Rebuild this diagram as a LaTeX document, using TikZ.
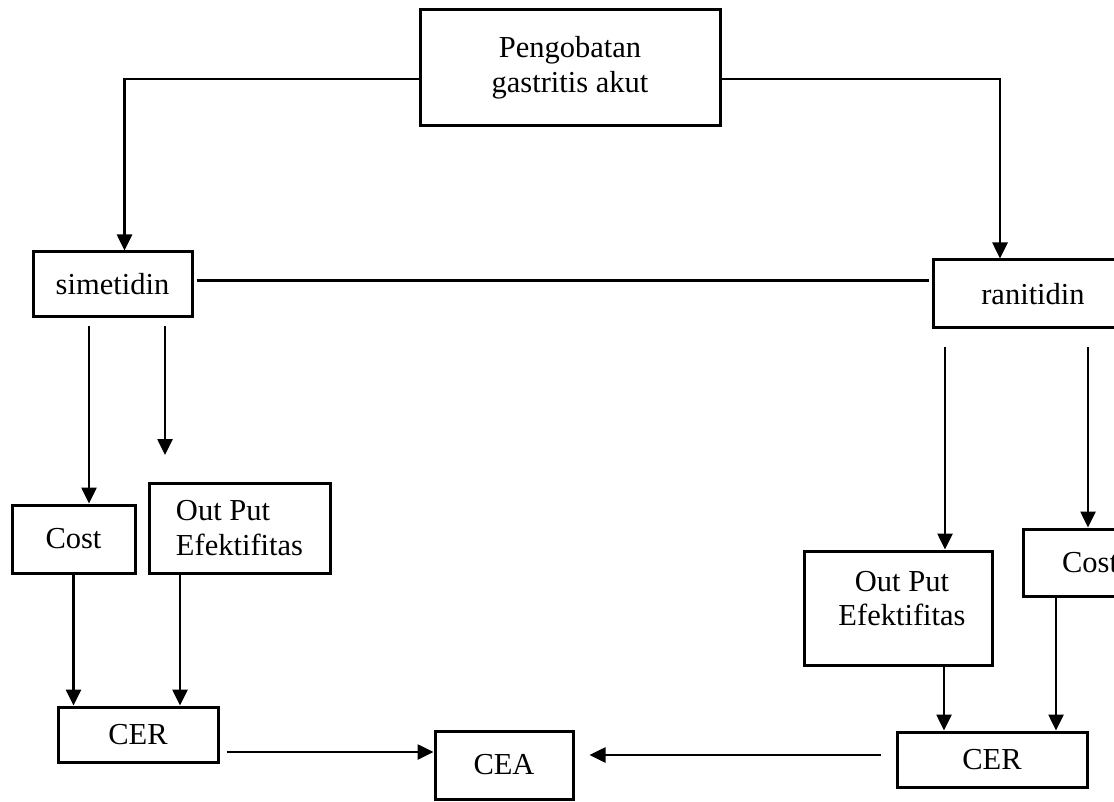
\documentclass[tikz,border=0pt]{standalone}
\usepackage{fontspec}
\setmainfont{Liberation Serif}
\usetikzlibrary{arrows.meta}
\tikzset{
  box/.style={draw=black, line width=3pt, fill=white, inner sep=0pt, align=center,
    font=\fontsize{30.5}{35}\selectfont},
  txt/.style={inner sep=0pt, font=\fontsize{30.5}{34}\selectfont},
  conn/.style={draw=black, line width=2.6pt},
  arr/.style={conn, -{Triangle[length=16pt,width=15pt]}}
}
\begin{document}
\begin{tikzpicture}[x=1pt,y=-1pt]
\useasboundingbox (0,0) rectangle (1114,802);
\clip (0,0) rectangle (1114,802);
\fill[white] (0,0) rectangle (1114,802);
% boxes
\node[box, minimum width=300pt, minimum height=116pt] (top) at (570,68) {Pengobatan\\gastritis akut};
\node[box, minimum width=159pt, minimum height=65pt] (sim) at (112.5,284.5) {simetidin};
\node[box, minimum width=200pt, minimum height=68pt] (ran) at (1033,294) {ranitidin};
\node[box, minimum width=123pt, minimum height=68pt] (cost1) at (73.5,539) {Cost};
\node[box, minimum width=181pt, minimum height=90pt, align=left] (op1) at (239.5,528) {Out Put\\Efektifitas};
\node[box, minimum width=134pt, minimum height=67pt] (cost2) at (1090,562.5) {Cost};
\node[box, minimum width=188pt, minimum height=114pt] (op2) at (898,608) {};
\node[txt, align=center] (op2t) at (902,599) {Out Put\\Efektifitas};
\node[box, minimum width=160pt, minimum height=55pt] (cer1) at (138,734.5) {CER};
\node[box, minimum width=138pt, minimum height=68pt] (cea) at (504,765) {CEA};
\node[box, minimum width=190pt, minimum height=55pt] (cer2) at (992,759.5) {CER};
\coordinate (f1) at (165,455);
% connectors
\draw[arr] ([yshift=-11pt]top.west) -| ([xshift=12pt]sim.north);
\draw[arr] ([yshift=-11pt]top.east) -| ([xshift=-33pt]ran.north);
\draw[conn] ([xshift=3pt,yshift=4pt]sim.east) -- ([xshift=-3pt,yshift=4pt]sim.east -| ran.west);
\draw[arr] ([xshift=-23.5pt,yshift=-8pt]sim.south) -- ([xshift=-23.5pt]sim.south |- cost1.north);
\draw[arr] ([xshift=52.5pt,yshift=-8pt]sim.south) -- (f1);
\draw[arr] (cost1.south) -- (cost1.south |- cer1.north);
\draw[arr] ([xshift=-59.5pt]op1.south) -- ([xshift=-59.5pt]op1.south |- cer1.north);
\draw[arr] ([xshift=7pt,yshift=-17.5pt]cer1.east) -- ([yshift=-17.5pt]cer1.east -| cea.west);
\draw[arr] ([xshift=-15pt,yshift=4.5pt]cer2.west) -- ([xshift=15pt,yshift=4.5pt]cer2.west -| cea.east);
\draw[arr] ([xshift=-88pt,yshift=-18pt]ran.south) -- ([xshift=-88pt]ran.south |- op2.north);
\draw[arr] ([xshift=55pt,yshift=-18pt]ran.south) -- ([xshift=55pt]ran.south |- cost2.north);
\draw[arr] ([xshift=-48pt]cer2.north |- op2.south) -- ([xshift=-48pt]cer2.north);
\draw[arr] ([xshift=64pt]cer2.north |- cost2.south) -- ([xshift=64pt]cer2.north);
\end{tikzpicture}
\end{document}
